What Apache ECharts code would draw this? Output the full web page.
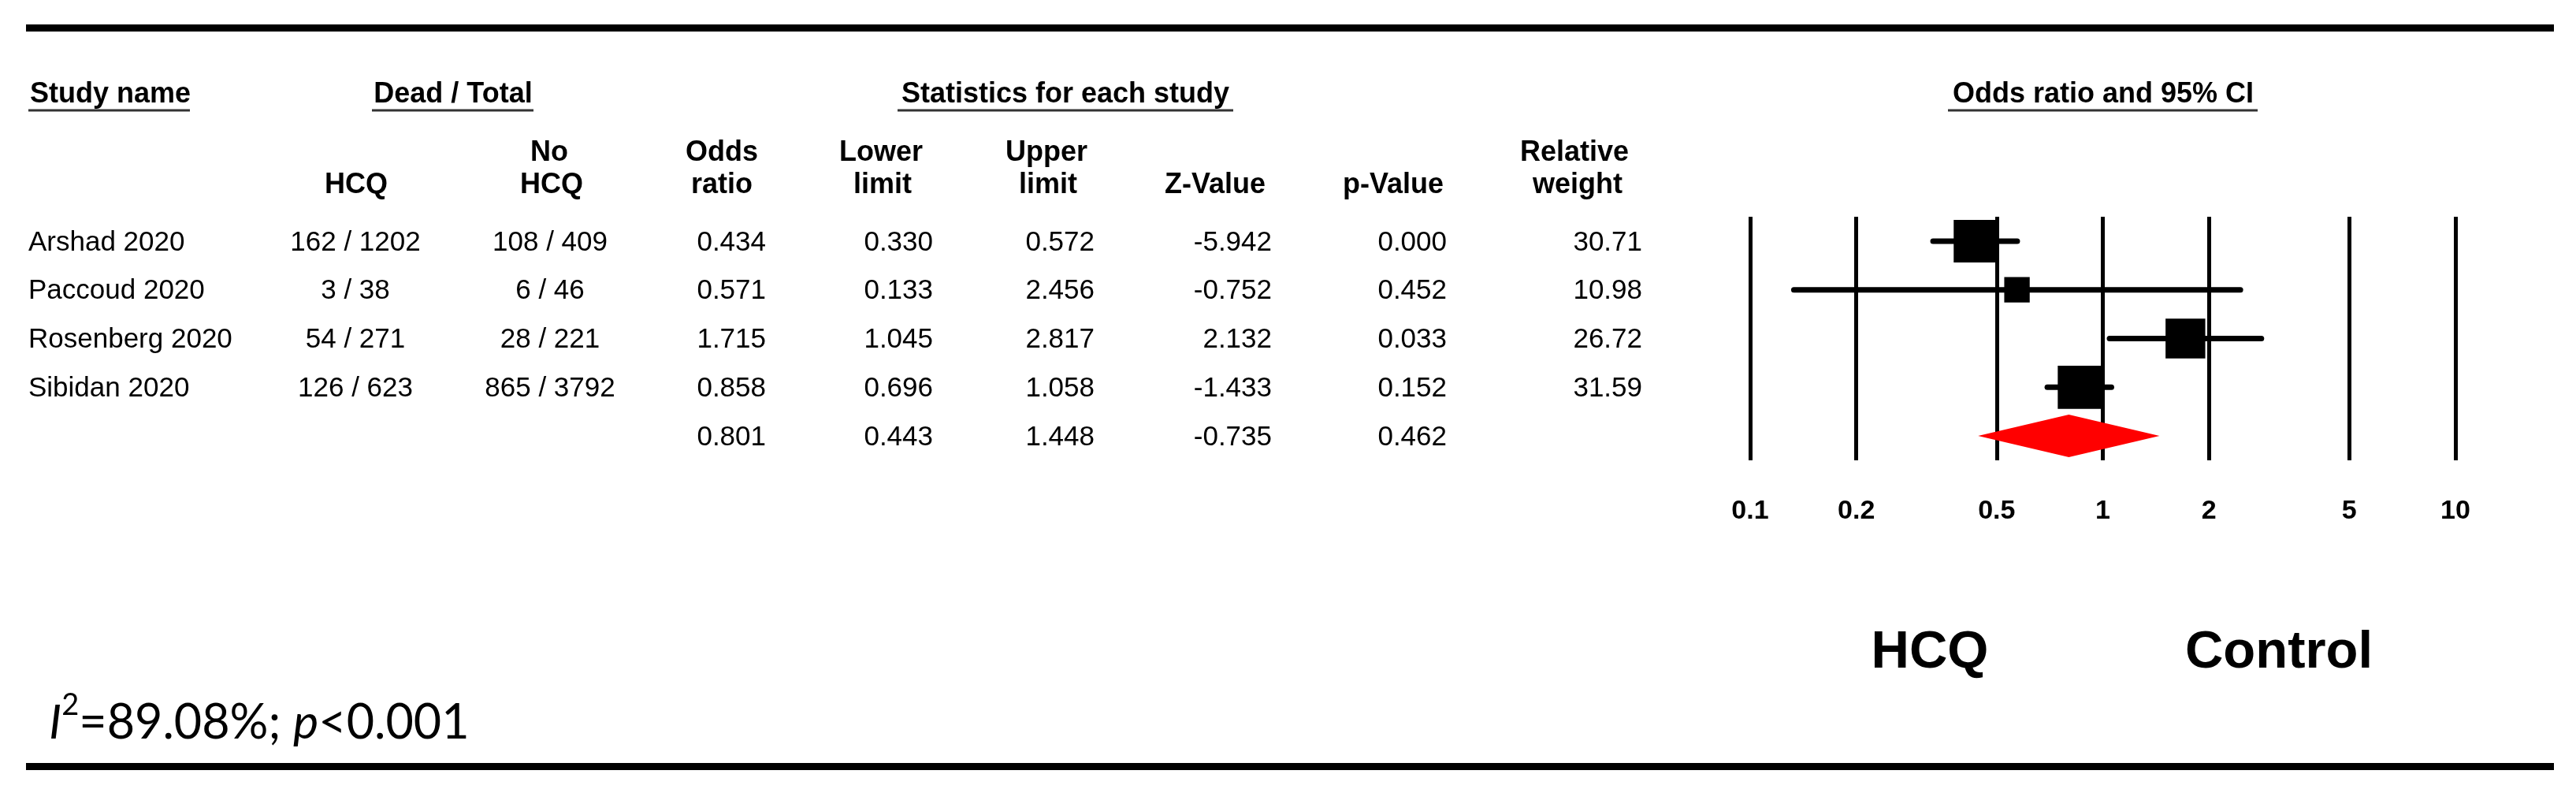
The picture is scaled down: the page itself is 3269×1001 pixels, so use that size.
<!DOCTYPE html>
<html>
<head>
<meta charset="utf-8">
<script src="https://cdn.jsdelivr.net/npm/echarts@6/dist/echarts.min.js"></script>
<style>
html,body{margin:0;padding:0;background:#fff;}
#chart{width:3269px;height:1001px;}
</style>
</head>
<body>
<div id="chart"></div>
<script>
// ---------------- data ----------------
const studies      = ['Arshad 2020', 'Paccoud 2020', 'Rosenberg 2020', 'Sibidan 2020'];
const hcqCounts    = ['162 / 1202', '3 / 38', '54 / 271', '126 / 623'];
const noHcqCounts  = ['108 / 409', '6 / 46', '28 / 221', '865 / 3792'];
const oddsRatio    = [0.434, 0.571, 1.715, 0.858];
const lowerLimit   = [0.330, 0.133, 1.045, 0.696];
const upperLimit   = [0.572, 2.456, 2.817, 1.058];
const zValue       = [-5.942, -0.752, 2.132, -1.433];
const pValue       = [0.000, 0.452, 0.033, 0.152];
const relWeight    = [30.71, 10.98, 26.72, 31.59];
const pooledOR     = 0.801;
const pooledLower  = 0.443;
const pooledUpper  = 1.448;
const pooledZ      = -0.735;
const pooledP      = 0.462;
const tickValues   = [0.1, 0.2, 0.5, 1, 2, 5, 10];
const heterogeneity = { i2: '89.08%', p: '<0.001' };

// ---------------- helpers ----------------
const FONT = "'Liberation Sans', Arial, sans-serif";
const nRows = studies.length + 1;
const rowIdx = Array.from({length: nRows}, (_, i) => i);

function cell(arr, i, digits) {
  if (i >= arr.length) return '';
  return digits == null ? arr[i] : arr[i].toFixed(digits);
}
const columns = [
  {x: 36,   align: 'left',   get: i => cell(studies, i)},
  {x: 451,  align: 'center', get: i => cell(hcqCounts, i)},
  {x: 698,  align: 'center', get: i => cell(noHcqCounts, i)},
  {x: 972,  align: 'right',  get: i => i < studies.length ? oddsRatio[i].toFixed(3) : pooledOR.toFixed(3)},
  {x: 1184, align: 'right',  get: i => i < studies.length ? lowerLimit[i].toFixed(3) : pooledLower.toFixed(3)},
  {x: 1389, align: 'right',  get: i => i < studies.length ? upperLimit[i].toFixed(3) : pooledUpper.toFixed(3)},
  {x: 1614, align: 'right',  get: i => i < studies.length ? zValue[i].toFixed(3) : pooledZ.toFixed(3)},
  {x: 1836, align: 'right',  get: i => i < studies.length ? pValue[i].toFixed(3) : pooledP.toFixed(3)},
  {x: 2084, align: 'right',  get: i => cell(relWeight, i, 2)}
];

function hText(text, x, y, align, size) {
  return {type: 'text', silent: true, style: {
    text, x, y: y + 2, align: align || 'center', verticalAlign: 'middle',
    fill: '#000', font: 'bold ' + (size || 36) + 'px ' + FONT}};
}
function uLine(x1, x2, y) {
  return {type: 'line', silent: true, shape: {x1, y1: y, x2, y2: y},
    style: {stroke: '#333', lineWidth: 3}};
}

const graphics = [
  {type: 'rect', silent: true, shape: {x: 33, y: 31, width: 3208, height: 9}, style: {fill: '#000'}},
  {type: 'rect', silent: true, shape: {x: 33, y: 968, width: 3208, height: 9}, style: {fill: '#000'}},
  hText('Study name', 38, 118, 'left'), uLine(36, 241, 140),
  hText('Dead / Total', 575, 118), uLine(472, 677, 140),
  hText('Statistics for each study', 1352, 118), uLine(1139, 1565, 140),
  hText('Odds ratio and 95% CI', 2669, 118), uLine(2472, 2865, 140),
  hText('HCQ', 452, 233),
  hText('No', 697, 192), hText('HCQ', 700, 233),
  hText('Odds', 916, 192), hText('ratio', 916, 233),
  hText('Lower', 1118, 192), hText('limit', 1120, 233),
  hText('Upper', 1328, 192), hText('limit', 1330, 233),
  hText('Z-Value', 1542, 233),
  hText('p-Value', 1768, 233),
  hText('Relative', 1998, 192), hText('weight', 2002, 233),
  hText('HCQ', 2449, 827, 'center', 67),
  hText('Control', 2892, 827, 'center', 67),
  {type: 'text', silent: true, style: {
    x: 62, y: 912, verticalAlign: 'middle', align: 'left',
    text: '{i|I}{s|2}{n|=' + heterogeneity.i2 + '; }{i|p}{n|' + heterogeneity.p + '}',
    rich: {
      n: {fontSize: 61, fontFamily: 'Lato', fill: '#000', lineHeight: 72, verticalAlign: 'bottom'},
      i: {fontSize: 61, fontFamily: 'Lato', fontStyle: 'italic', fill: '#000', lineHeight: 72, verticalAlign: 'bottom'},
      s: {fontSize: 38, fontFamily: 'Lato', fill: '#000', lineHeight: 72, verticalAlign: 'top'}
    }
  }}
];

const chart = echarts.init(document.getElementById('chart'), null, {renderer: 'canvas'});

const option = {
  backgroundColor: '#fff',
  animation: false,
  grid: {left: 2221, top: 275, width: 895, height: 309},
  xAxis: {
    type: 'log', logBase: 10, min: 0.1, max: 10,
    axisLine: {show: false}, axisTick: {show: false}, splitLine: {show: false},
    axisLabel: {
      customValues: tickValues,
      formatter: v => String(+v.toPrecision(3)),
      margin: 48, color: '#000', fontSize: 34, fontWeight: 'bold', fontFamily: FONT
    }
  },
  yAxis: {type: 'value', min: -0.5, max: 4.5, inverse: true, show: false},
  graphic: graphics,
  series: [
    {
      name: 'ci', type: 'custom', z: 3, clip: false,
      data: oddsRatio.map((v, i) => [lowerLimit[i], upperLimit[i], i]),
      renderItem: (params, api) => {
        const a = api.coord([api.value(0), api.value(2)]);
        const b = api.coord([api.value(1), api.value(2)]);
        return {type: 'line', shape: {x1: a[0], y1: a[1], x2: b[0], y2: b[1]},
          style: {stroke: '#000', lineWidth: 7, lineCap: 'round'}};
      },
      markLine: {
        silent: true, symbol: ['none', 'none'], animation: false,
        label: {show: false},
        lineStyle: {color: '#000', width: 5, type: 'solid'},
        data: tickValues.map(t => ({xAxis: t}))
      }
    },
    {
      name: 'or', type: 'scatter', z: 4, symbol: 'rect',
      data: oddsRatio.map((v, i) => [v, i]),
      symbolSize: (val, p) => 9.75 * Math.sqrt(relWeight[p.dataIndex]),
      itemStyle: {color: '#000', opacity: 1}
    },
    {
      name: 'pooled', type: 'custom', z: 5, clip: false,
      data: [[pooledLower, pooledOR, pooledUpper, studies.length]],
      renderItem: (params, api) => {
        const r = api.value(3);
        const l = api.coord([api.value(0), r]);
        const c = api.coord([api.value(1), r]);
        const u = api.coord([api.value(2), r]);
        const h = 27;
        return {type: 'polygon', shape: {points: [[l[0], l[1]], [c[0], c[1] - h], [u[0], u[1]], [c[0], c[1] + h]]},
          style: {fill: '#ff0000'}};
      }
    },
    {
      name: 'table', type: 'custom', z: 6, clip: false, silent: true,
      data: rowIdx.map(i => [1, i]),
      renderItem: (params, api) => {
        const r = api.value(1);
        const y = api.coord([1, r])[1] + 2;
        return {type: 'group', children: columns.map(col => ({
          type: 'text', style: {text: col.get(r), x: col.x, y, align: col.align, verticalAlign: 'middle',
            fill: '#000', font: '35px ' + FONT}}))};
      }
    }
  ]
};
chart.setOption(option);
</script>
</body>
</html>
